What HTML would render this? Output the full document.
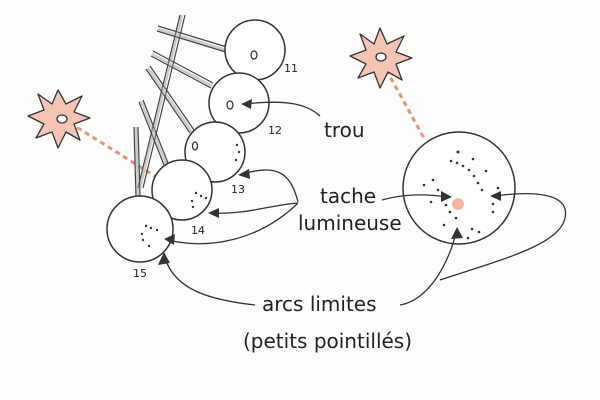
<!DOCTYPE html>
<html><head><meta charset="utf-8"><style>
html,body{margin:0;padding:0;background:#fdfdfb;}
svg{display:block}
text{font-family:"Comic Sans MS","DejaVu Sans",sans-serif;fill:#222;}
</style></head><body>
<svg width="600" height="400" viewBox="0 0 600 400" xmlns="http://www.w3.org/2000/svg">
<rect width="600" height="400" fill="#fdfdfb"/>
<g stroke="#e8927a" stroke-width="3" stroke-dasharray="5,4" fill="none">
<line x1="62" y1="118" x2="158" y2="178"/>
<line x1="382" y1="62" x2="425" y2="140"/>
</g>
<g stroke="#333" stroke-width="1.3" fill="#f6c4b4" stroke-linejoin="round">
<polygon points="58,90 66,104 82,96 74,112 90,118 74,124 80,140 66,132 58,148 52,132 36,138 44,124 28,116 44,110 38,94 52,104"/>
<polygon points="380,28 387,44 404,36 396,52 412,58 396,64 402,80 388,72 380,88 374,72 358,78 366,64 350,56 366,50 360,34 374,44"/>
</g>
<g fill="#fff" stroke="#333" stroke-width="1.3">
<ellipse cx="62" cy="119" rx="5" ry="4"/><ellipse cx="381" cy="57" rx="5" ry="4"/>
</g>
<g stroke="#444" stroke-width="1.2" fill="none">
<path d="M180,15 L138,188 M185,15 L143,188"/>
<path d="M158,26 L230,48 M157,31 L229,53"/>
<path d="M153,51 L213,83 M151,56 L211,88"/>
<path d="M150,66 L194,130 M146,69 L190,133"/>
<path d="M143,100 L168,163 M139,102 L164,165"/>
<path d="M138,127 L140,196 M134,127 L136,196"/>
</g>
<g stroke="#999" stroke-width="2.5" fill="none" opacity="0.5">
<path d="M182,15 L140,188 M158,29 L229,51 M152,54 L212,86 M148,68 L192,132 M141,101 L166,164 M136,127 L138,196"/>
</g>
<g fill="#fff" stroke="#333" stroke-width="1.5">
<circle cx="255" cy="50" r="30"/>
<circle cx="239" cy="103" r="30"/>
<circle cx="215" cy="152" r="30"/>
<circle cx="182" cy="190" r="30"/>
<circle cx="140" cy="229" r="33"/>
<circle cx="459" cy="188" r="56"/>
</g>
<g fill="none" stroke="#333" stroke-width="1.3">
<ellipse cx="254" cy="55" rx="3" ry="4"/><ellipse cx="230" cy="105" rx="3" ry="4"/><ellipse cx="195" cy="146" rx="2.5" ry="4"/>
</g>
<circle cx="458" cy="204" r="6" fill="#f6b8a4"/>
<g fill="#333">
<circle cx="237" cy="145" r="1.2"/><circle cx="239" cy="152" r="1.2"/><circle cx="236" cy="160" r="1.2"/>
<circle cx="196" cy="193" r="1.2"/><circle cx="201" cy="196" r="1.2"/><circle cx="206" cy="198" r="1.2"/><circle cx="192" cy="201" r="1.2"/><circle cx="193" cy="207" r="1.2"/>
<circle cx="146" cy="226" r="1.2"/><circle cx="151" cy="228" r="1.2"/><circle cx="157" cy="230" r="1.2"/><circle cx="142" cy="234" r="1.2"/><circle cx="143" cy="240" r="1.2"/><circle cx="149" cy="246" r="1.2"/>
<circle cx="458" cy="152" r="1.5"/><circle cx="451" cy="161" r="1.3"/><circle cx="457" cy="163" r="1.3"/><circle cx="463" cy="166" r="1.3"/><circle cx="469" cy="170" r="1.3"/><circle cx="474" cy="176" r="1.3"/><circle cx="478" cy="183" r="1.3"/><circle cx="482" cy="190" r="1.3"/>
<circle cx="473" cy="159" r="1.3"/><circle cx="486" cy="171" r="1.3"/><circle cx="498" cy="188" r="1.3"/><circle cx="494" cy="196" r="1.3"/><circle cx="493" cy="204" r="1.3"/><circle cx="493" cy="212" r="1.3"/>
<circle cx="424" cy="185" r="1.3"/><circle cx="433" cy="180" r="1.3"/><circle cx="438" cy="190" r="1.3"/><circle cx="431" cy="202" r="1.3"/><circle cx="446" cy="205" r="1.3"/><circle cx="450" cy="212" r="1.3"/><circle cx="456" cy="218" r="1.3"/><circle cx="444" cy="225" r="1.3"/><circle cx="472" cy="229" r="1.3"/><circle cx="479" cy="232" r="1.3"/><circle cx="468" cy="238" r="1.3"/>
</g>
<g font-size="11">
<text x="284" y="72">11</text><text x="268" y="134">12</text><text x="231" y="193">13</text><text x="191" y="234">14</text><text x="133" y="277">15</text>
</g>
<g fill="none" stroke="#333" stroke-width="1.3">
<path d="M320,116 C305,102 280,100 245,104"/>
<path d="M298,202 C290,170 275,165 242,174"/>
<path d="M298,203 C270,205 245,215 212,213"/>
<path d="M298,203 C260,240 210,250 168,240"/>
<path d="M255,305 C210,300 175,290 165,258"/>
<path d="M382,200 C400,195 420,193 448,197"/>
<path d="M400,305 C430,300 450,260 456,232"/>
<path d="M440,280 C500,260 560,245 565,218 C570,195 540,190 494,196"/>
</g>
<g fill="#333">
<polygon points="241,104 252,99 251,109"/>
<polygon points="238,175 249,169 250,179"/>
<polygon points="208,213 219,208 219,218"/>
<polygon points="164,239 175,234 174,245"/>
<polygon points="164,252 158,265 170,263"/>
<polygon points="452,197 441,191 441,202"/>
<polygon points="457,227 451,239 463,238"/>
<polygon points="490,196 501,191 501,201"/>
</g>
<text x="324" y="137" font-size="20">trou</text>
<text x="320" y="203" font-size="20">tache</text>
<text x="298" y="230" font-size="20">lumineuse</text>
<text x="262" y="311" font-size="20">arcs limites</text>
<text x="243" y="348" font-size="20">(petits pointillés)</text>
</svg>
</body></html>
